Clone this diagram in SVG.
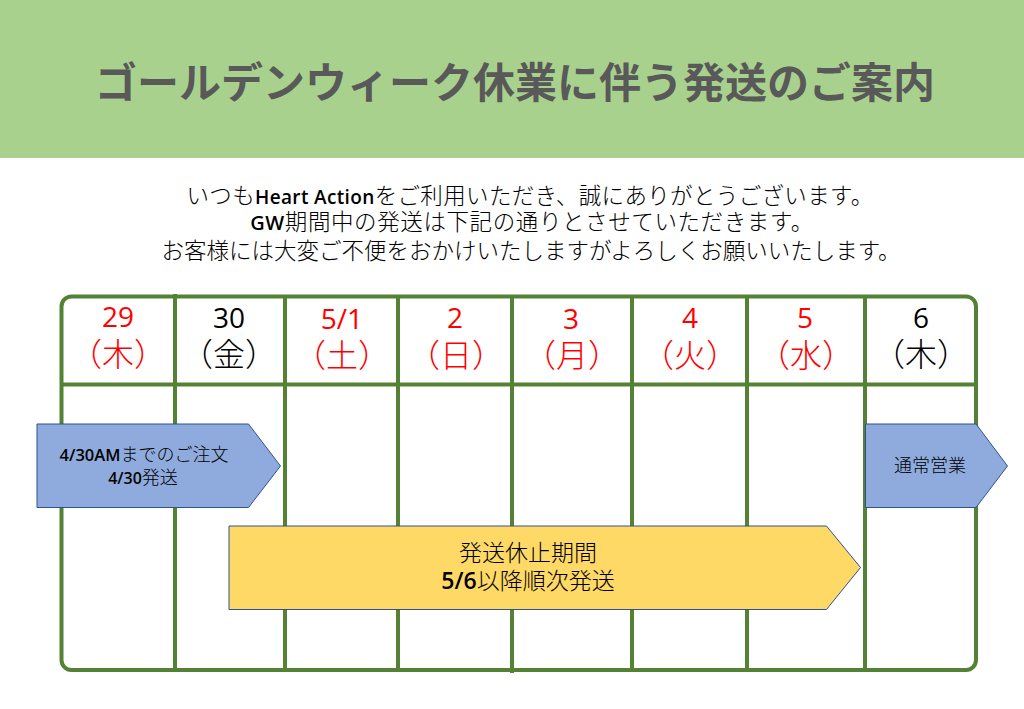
<svg xmlns="http://www.w3.org/2000/svg" width="1024" height="709" viewBox="0 0 1024 709">
<style>
text{font-family:"Noto Sans CJK JP","Noto Sans",sans-serif;text-anchor:middle}
.l{font-family:"Open Sans","Noto Sans CJK JP",sans-serif;font-weight:600}
.g{fill:none;stroke:#548235;stroke-width:4}
.b{font-size:22.500px;fill:#000;font-weight:300}
.d{font-size:28px;font-family:"Open Sans","Noto Sans CJK JP",sans-serif}
.w{font-size:32px;font-weight:300}
.r{fill:#ff0000}.k{fill:#000}
.a{stroke:#2f528f;stroke-width:1}
.s{font-size:18px;fill:#000;font-weight:300}
.m{font-size:23px;fill:#000;font-weight:300}
</style>
<rect x="0" y="0" width="1024" height="158" fill="#a9d18e"/>
<text x="515" y="98" font-size="42" font-weight="700" fill="#595959">ゴールデンウィーク休業に伴う発送のご案内</text>
<g id="intro">
<text class="b" x="530" y="204" letter-spacing="0.350">いつも<tspan class="l" font-size="19">Heart Action</tspan>をご利用いただき、誠にありがとうございます。</text>
<text class="b" x="532" y="230" letter-spacing="0.600"><tspan class="l" font-size="20">GW</tspan>期間中の発送は下記の通りとさせていただきます。</text>
<text class="b" x="531" y="259">お客様には大変ご不便をおかけいたしますがよろしくお願いいたします。</text>
</g>
<g id="grid">
<rect class="g" x="61.500" y="296.500" width="914.500" height="373.500" rx="10"/>
<path class="g" d="M61.500 384.500H976M175 294V672M285 296V672M398 296V672M512 296V673M632 296V672M747 296V672M865 296V672"/>
</g>
<g id="day-29"><text class="d r" x="118" y="327">29</text><text class="w r" x="118" y="366">（木）</text></g>
<g id="day-30"><text class="d k" x="229" y="328">30</text><text class="w k" x="229" y="366">（金）</text></g>
<g id="day-1"><text class="d r" x="342" y="329">5/1</text><text class="w r" x="342" y="367">（土）</text></g>
<g id="day-2"><text class="d r" x="455" y="328">2</text><text class="w r" x="456" y="367">（日）</text></g>
<g id="day-3"><text class="d r" x="571" y="329">3</text><text class="w r" x="572" y="367">（月）</text></g>
<g id="day-4"><text class="d r" x="690" y="328">4</text><text class="w r" x="690" y="367">（火）</text></g>
<g id="day-5"><text class="d r" x="805" y="328">5</text><text class="w r" x="806" y="367">（水）</text></g>
<g id="day-6"><text class="d k" x="921" y="328">6</text><text class="w k" x="921" y="366">（木）</text></g>
<g id="arrow-order">
<path class="a" fill="#8faadc" d="M37 424H248.500L280.500 466L248.500 507.500H37Z"/>
<text class="s" x="144" y="461"><tspan class="l" font-size="16.500">4/30AM</tspan>までのご注文</text>
<text class="s" x="143" y="484"><tspan class="l" font-size="16">4/30</tspan>発送</text>
</g>
<g id="arrow-normal">
<path class="a" fill="#8faadc" d="M865.500 424H976L1007.500 466L976 507.500H865.500Z"/>
<text class="s" x="930" y="472">通常営業</text>
</g>
<g id="arrow-stop">
<path class="a" fill="#ffd966" d="M229 526H826.500L860.500 567.500L826.500 609.500H229Z"/>
<text class="m" x="528" y="561">発送休止期間</text>
<text class="m" x="528" y="589"><tspan class="l" font-size="23">5/6</tspan>以降順次発送</text>
</g>
</svg>
